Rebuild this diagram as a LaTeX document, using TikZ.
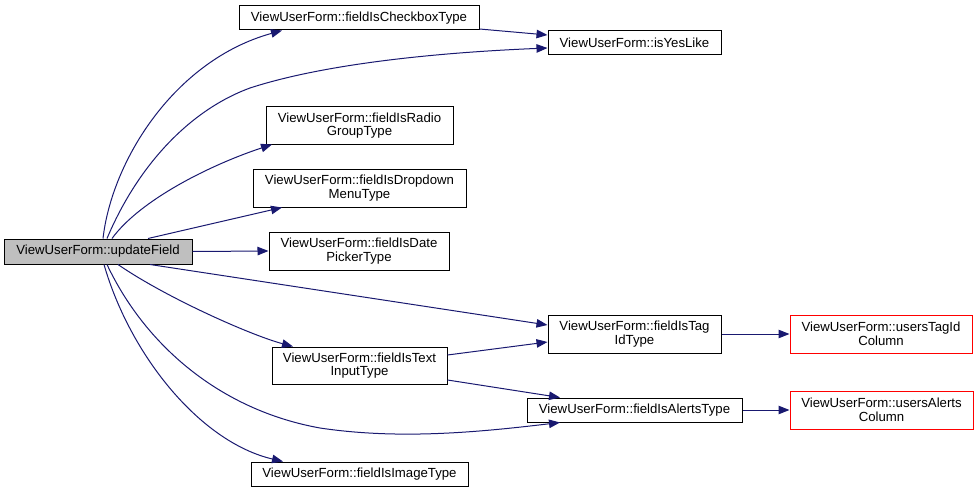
\documentclass[tikz,border=0pt]{standalone}
\usepackage{fontspec}
\setmainfont{Liberation Sans}
\usetikzlibrary{arrows.meta}
\definecolor{edgeblue}{HTML}{191970}
\definecolor{hlgray}{HTML}{BFBFBF}
\tikzset{
  fn/.style={draw=black, line width=1pt, fill=white, inner sep=0pt, align=center,
    font=\fontsize{13.2}{13.8}\selectfont},
  rootfn/.style={fn, fill=hlgray},
  extfn/.style={fn, draw=red},
  call/.style={draw=edgeblue, line width=1pt, -{Triangle[length=11pt,width=8.5pt]}, edgeblue},
}
\begin{document}
\begin{tikzpicture}[x=1pt,y=-1pt]
\useasboundingbox (0,0) rectangle (979,492);
% nodes
\node[rootfn, minimum width=188pt, minimum height=25pt] (upd) at (98,251.5) {ViewUserForm::updateField};
\node[fn, minimum width=240pt, minimum height=24pt] (cb) at (359,18) {ViewUserForm::fieldIsCheckboxType};
\node[fn, minimum width=173pt, minimum height=24pt] (yes) at (634.5,43) {ViewUserForm::isYesLike};
\node[fn, minimum width=187pt, minimum height=37pt] (radio) at (359.5,125.5) {ViewUserForm::fieldIsRadio\\GroupType};
\node[fn, minimum width=213pt, minimum height=38pt] (dd) at (359.5,188) {ViewUserForm::fieldIsDropdown\\MenuType};
\node[fn, minimum width=180pt, minimum height=38pt] (dp) at (359,251) {ViewUserForm::fieldIsDate\\PickerType};
\node[fn, minimum width=175pt, minimum height=37pt] (ti) at (359.5,365.5) {ViewUserForm::fieldIsText\\InputType};
\node[fn, minimum width=217pt, minimum height=24pt] (img) at (359.5,474) {ViewUserForm::fieldIsImageType};
\node[fn, minimum width=173pt, minimum height=38pt] (tag) at (634.5,334) {ViewUserForm::fieldIsTag\\IdType};
\node[fn, minimum width=215pt, minimum height=24pt] (al) at (634.5,410) {ViewUserForm::fieldIsAlertsType};
\node[extfn, minimum width=182pt, minimum height=38pt] (utc) at (881,334) {ViewUserForm::usersTagId\\Column};
\node[extfn, minimum width=183pt, minimum height=38pt] (uac) at (881.5,410) {ViewUserForm::usersAlerts\\Column};
% edges
\draw[call] ([xshift=5pt]upd.north) .. controls (112,160) and (175,60) .. ([xshift=-77pt]cb.south);
\draw[call] ([xshift=9pt]upd.north) .. controls (138,165) and (190,110) .. (250,88) .. controls (330,62) and (450,52) .. ([yshift=-5pt]yes.west);
\draw[call] ([yshift=-11pt]cb.east) -- ([yshift=8pt]yes.west);
\draw[call] ([xshift=14pt]upd.north) .. controls (140,200) and (210,165) .. ([xshift=-87.5pt]radio.south);
\draw[call] ([xshift=50pt]upd.north) -- ([xshift=-77.5pt]dd.south);
\draw[call] (upd.east) -- (dp.west);
\draw[call] ([xshift=52pt]upd.south) -- ([yshift=9pt]tag.west);
\draw[call] ([xshift=20pt]upd.south) .. controls (165,297) and (250,335) .. ([xshift=-66.5pt]ti.north);
\draw[call] ([xshift=9pt]upd.south) .. controls (145,345) and (220,410) .. (320,428) .. controls (400,440) and (480,432) .. ([xshift=-74.5pt]al.south);
\draw[call] ([xshift=6pt]upd.south) .. controls (130,355) and (200,442) .. ([xshift=-76.5pt]img.north);
\draw[call] ([yshift=10.5pt]ti.east) -- ([yshift=-8pt]tag.west);
\draw[call] ([yshift=-14.5pt]ti.east) -- ([xshift=-74.5pt]al.north);
\draw[call] (tag.east) -- (utc.west);
\draw[call] (al.east) -- (uac.west);
\end{tikzpicture}
\end{document}
